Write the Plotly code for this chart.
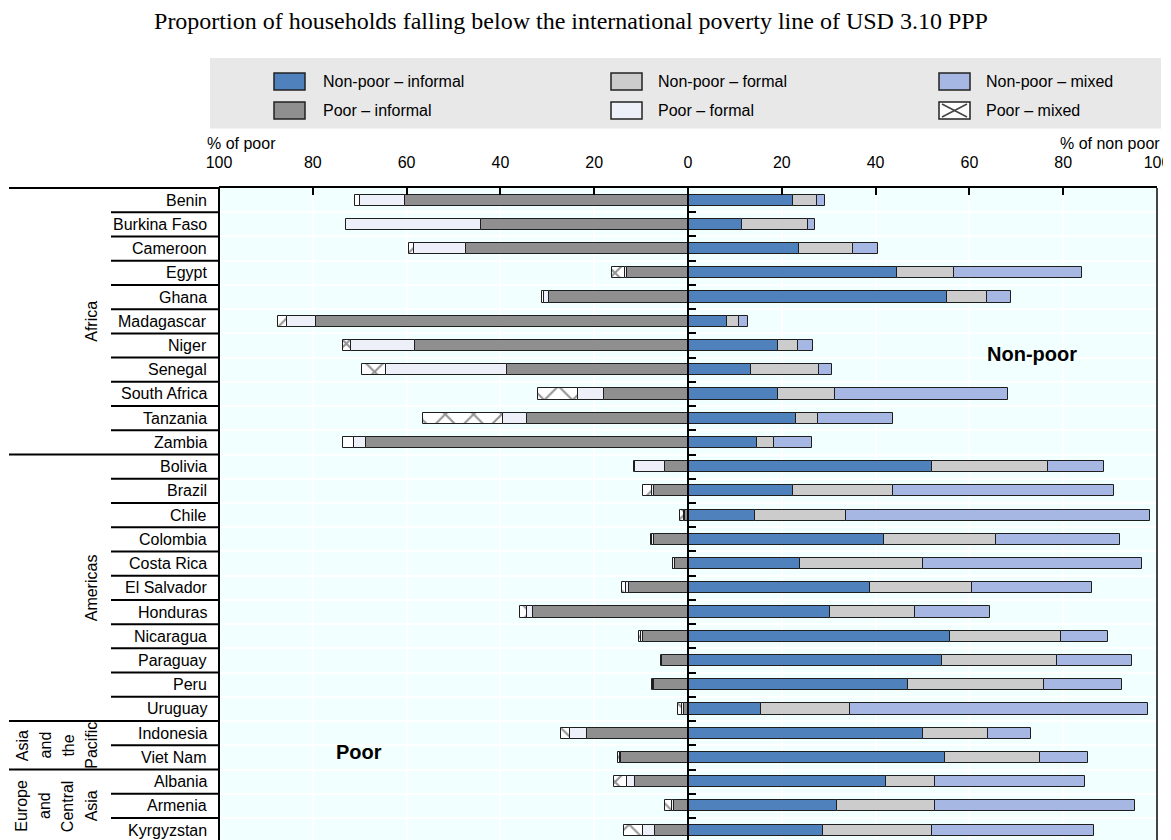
import plotly.graph_objects as go

# ---------------- data ----------------
countries = ["Benin", "Burkina Faso", "Cameroon", "Egypt", "Ghana", "Madagascar", "Niger",
             "Senegal", "South Africa", "Tanzania", "Zambia",
             "Bolivia", "Brazil", "Chile", "Colombia", "Costa Rica", "El Salvador", "Honduras",
             "Nicaragua", "Paraguay", "Peru", "Uruguay",
             "Indonesia", "Viet Nam",
             "Albania", "Armenia", "Kyrgyzstan"]
region_names = [["Africa"], ["Americas"], ["Asia", "and", "the", "Pacific"], ["Europe", "and", "Central", "Asia"]]
region_sizes = [11, 11, 2, 3]

poor_informal = [60.3, 44.2, 47.3, 13.0, 29.6, 79.4, 58.2, 38.7, 17.9, 34.3, 68.7,
                 4.8, 7.3, 0.6, 7.3, 2.8, 12.6, 33.0, 9.6, 5.5, 7.2, 0.9,
                 21.6, 14.2,
                 11.3, 3.0, 7.0]
poor_formal = [9.6, 28.8, 11.1, 0.5, 1.1, 6.0, 13.7, 25.8, 5.6, 5.1, 2.6,
               6.4, 0.4, 0.2, 0.3, 0.3, 0.6, 1.4, 0.5, 0.1, 0.3, 0.4,
               3.6, 0.4,
               1.8, 0.5, 2.5]
poor_mixed = [1.0, 0.0, 1.1, 2.6, 0.4, 2.0, 1.7, 5.0, 8.5, 17.1, 2.3,
              0.3, 1.8, 1.0, 0.3, 0.2, 0.9, 1.4, 0.4, 0.1, 0.2, 0.8,
              1.8, 0.3,
              2.6, 1.3, 4.1]
nonpoor_informal = [22.3, 11.6, 23.7, 44.6, 55.3, 8.3, 19.1, 13.4, 19.2, 23.0, 14.7,
                    52.1, 22.3, 14.2, 41.7, 23.8, 38.8, 30.2, 55.8, 54.1, 46.9, 15.5,
                    50.1, 54.8,
                    42.2, 31.7, 28.7]
nonpoor_formal = [5.3, 13.9, 11.5, 12.2, 8.5, 2.5, 4.3, 14.6, 12.2, 4.8, 3.6,
                  24.6, 21.5, 19.4, 23.9, 26.4, 21.8, 18.2, 23.8, 24.5, 29.1, 19.1,
                  13.8, 20.3,
                  10.4, 20.9, 23.4]
nonpoor_mixed = [1.6, 1.6, 5.4, 27.3, 5.1, 2.0, 3.2, 2.6, 36.8, 15.9, 8.2,
                 12.1, 47.0, 64.8, 26.5, 46.7, 25.5, 16.0, 9.9, 16.1, 16.6, 63.4,
                 9.2, 10.2,
                 32.0, 42.8, 34.5]

tick_values = [-100, -80, -60, -40, -20, 0, 20, 40, 60, 80, 100]
tick_labels = [str(abs(v)) for v in tick_values]

# ---------------- styling ----------------
SANS = "Liberation Sans, Arial, sans-serif"
SERIF = "Liberation Serif, Times New Roman, serif"
C_NP_INF = "#4f81bd"
C_NP_FOR = "#cccccc"
C_NP_MIX = "#a7b7e3"
C_P_INF = "#8f8f8f"
C_P_FOR = "#edf0f8"
OUTLINE = "#1e1e1e"

# the page body adds an 8px margin: lay out in page pixels, shift into figure pixels
OFF = 8
PAGE_W, PAGE_H = 1171, 840
W_PX, H_PX = PAGE_W - OFF, PAGE_H - OFF
L, R, T, B = 219 - OFF, 1157 - OFF, 188 - OFF, 840 - OFF
ROW_PX = 24.23
n = len(countries)
YMIN, YMAX = -0.5, -0.5 + (B - T) / ROW_PX


def fx(px):
    # page pixel x -> paper fraction
    return (px - OFF - L) / (R - L)


def fy(py):
    # page pixel y -> paper fraction
    return (B - (py - OFF)) / (B - T)


def yp(v):
    return (YMAX - v) / (YMAX - YMIN)


idx = list(range(n))
fig = go.Figure()

bar_w = 0.46
line = dict(color=OUTLINE, width=1)

fig.add_trace(go.Bar(y=idx, x=[-v for v in poor_informal], orientation="h", width=bar_w,
                     name="Poor – informal", marker=dict(color=C_P_INF, line=line)))
fig.add_trace(go.Bar(y=idx, x=[-v for v in poor_formal], orientation="h", width=bar_w,
                     name="Poor – formal", marker=dict(color=C_P_FOR, line=line)))
fig.add_trace(go.Bar(y=idx, x=[-v for v in poor_mixed], orientation="h", width=bar_w,
                     name="Poor – mixed",
                     marker=dict(color="white", line=line,
                                 pattern=dict(shape="x", fgcolor="#2a2a2a", bgcolor="white",
                                              size=20, solidity=0.2))))
fig.add_trace(go.Bar(y=idx, x=nonpoor_informal, orientation="h", width=bar_w,
                     name="Non-poor – informal", marker=dict(color=C_NP_INF, line=line)))
fig.add_trace(go.Bar(y=idx, x=nonpoor_formal, orientation="h", width=bar_w,
                     name="Non-poor – formal", marker=dict(color=C_NP_FOR, line=line)))
fig.add_trace(go.Bar(y=idx, x=nonpoor_mixed, orientation="h", width=bar_w,
                     name="Non-poor – mixed", marker=dict(color=C_NP_MIX, line=line)))

shapes = []
annotations = []

# plot borders
shapes.append(dict(type="line", xref="paper", yref="paper", x0=0, x1=0, y0=0, y1=1,
                   line=dict(color="black", width=2)))
shapes.append(dict(type="line", xref="paper", yref="paper", x0=1, x1=1, y0=0, y1=1,
                   line=dict(color="#444444", width=2)))

# label column lines
group_ends = []
acc = 0
for s in region_sizes:
    acc += s
    group_ends.append(acc - 1)
shapes.append(dict(type="line", xref="paper", yref="paper", x0=fx(9), x1=0, y0=1, y1=1,
                   line=dict(color="black", width=2)))
for i in range(n):
    yb = i + 0.5
    if yb > YMAX:
        continue
    x0 = fx(9) if i in group_ends else fx(111)
    shapes.append(dict(type="line", xref="paper", yref="paper", x0=x0, x1=0,
                       y0=yp(yb), y1=yp(yb), line=dict(color="black", width=2)))

# country labels
for i, c in enumerate(countries):
    annotations.append(dict(text=c, xref="paper", yref="y", x=0, y=i, xshift=-10,
                            xanchor="right", yanchor="middle", showarrow=False,
                            font=dict(family=SANS, size=16, color="black")))

# region labels (rotated)
start = 0
for words, s in zip(region_names, region_sizes):
    center = start + (s - 1) / 2
    k = len(words)
    for j, w in enumerate(words):
        xc = 91.5 - (k - 1 - j) * 23.2
        annotations.append(dict(text=w, xref="paper", yref="paper", x=fx(xc), y=yp(center),
                                textangle=-90, xanchor="center", yanchor="middle",
                                showarrow=False,
                                font=dict(family=SANS, size=16, color="black")))
    start += s

# in-chart labels
annotations.append(dict(text="<b>Poor</b>", xref="paper", yref="paper", x=fx(359), y=fy(752),
                        xanchor="center", yanchor="middle", showarrow=False,
                        font=dict(family=SANS, size=20, color="black")))
annotations.append(dict(text="<b>Non-poor</b>", xref="paper", yref="paper", x=fx(1032), y=fy(354),
                        xanchor="center", yanchor="middle", showarrow=False,
                        font=dict(family=SANS, size=20, color="black")))

# axis captions
annotations.append(dict(text="% of poor", xref="paper", yref="paper", x=fx(205), y=fy(143),
                        xanchor="left", yanchor="middle", showarrow=False,
                        font=dict(family=SANS, size=16, color="black")))
annotations.append(dict(text="% of non poor", xref="paper", yref="paper", x=fx(1162), y=fy(143),
                        xanchor="right", yanchor="middle", showarrow=False,
                        font=dict(family=SANS, size=16, color="black")))

# legend (drawn manually to match the boxed layout)
shapes.append(dict(type="rect", xref="paper", yref="paper", x0=fx(210), x1=fx(1161),
                   y0=fy(128.5), y1=fy(58), fillcolor="#e8e8e8", line=dict(width=0),
                   layer="below"))
legend_items = [
    ("Non-poor – informal", C_NP_INF, 0, 0),
    ("Non-poor – formal", C_NP_FOR, 1, 0),
    ("Non-poor – mixed", C_NP_MIX, 2, 0),
    ("Poor – informal", C_P_INF, 0, 1),
    ("Poor – formal", C_P_FOR, 1, 1),
    ("Poor – mixed", "white", 2, 1),
]
col_sw = [274, 611, 939]
col_tx = [321, 656, 984]
row_top = [73, 102]
sw_w, sw_h = 31, 17
for name, color, cidx, ridx in legend_items:
    x0, y0 = col_sw[cidx], row_top[ridx]
    shapes.append(dict(type="rect", xref="paper", yref="paper", x0=fx(x0), x1=fx(x0 + sw_w),
                       y0=fy(y0 + sw_h), y1=fy(y0), fillcolor=color,
                       line=dict(color="#222222", width=1.5)))
    if name == "Poor – mixed":
        for (a, b) in [((x0 + 3, y0 + 2), (x0 + sw_w - 3, y0 + sw_h - 2)),
                       ((x0 + 3, y0 + sw_h - 2), (x0 + sw_w - 3, y0 + 2))]:
            shapes.append(dict(type="line", xref="paper", yref="paper",
                               x0=fx(a[0]), y0=fy(a[1]), x1=fx(b[0]), y1=fy(b[1]),
                               line=dict(color="#444444", width=1.5)))
    annotations.append(dict(text=name, xref="paper", yref="paper", x=fx(col_tx[cidx]),
                            y=fy(y0 + sw_h / 2), xanchor="left", yanchor="middle",
                            showarrow=False, font=dict(family=SANS, size=16, color="black")))

fig.update_layout(
    width=W_PX, height=H_PX,
    margin=dict(l=L, r=W_PX - R, t=T, b=H_PX - B, autoexpand=False),
    paper_bgcolor="white",
    plot_bgcolor="#f2ffff",
    barmode="relative",
    bargap=0,
    showlegend=False,
    title=dict(text="Proportion of households falling below the international poverty line of USD 3.10 PPP",
               x=(571 - OFF) / W_PX, xref="container", xanchor="center",
               y=1 - (21 - OFF) / H_PX, yref="container", yanchor="middle",
               font=dict(family=SERIF, size=24, color="black")),
    xaxis=dict(range=[-100, 100], side="top", tickvals=tick_values, ticktext=tick_labels,
               ticks="inside", ticklen=7, tickwidth=1.5, tickcolor="black",
               showline=True, linecolor="black", linewidth=2,
               showgrid=True, gridcolor="white", gridwidth=2, zeroline=False,
               ticklabelstandoff=12,
               tickfont=dict(family=SANS, size=16, color="black"), fixedrange=True),
    yaxis=dict(range=[YMAX, YMIN], anchor="free", position=0.5, side="right",
               tickvals=[i + 0.5 for i in range(n - 1)], ticks="outside", ticklen=7,
               tickwidth=2, tickcolor="black", showticklabels=False,
               showgrid=True, gridcolor="white", gridwidth=2,
               showline=True, linecolor="black", linewidth=2, zeroline=False, fixedrange=True),
    shapes=shapes,
    annotations=annotations,
)

fig.write_html("out.html")
